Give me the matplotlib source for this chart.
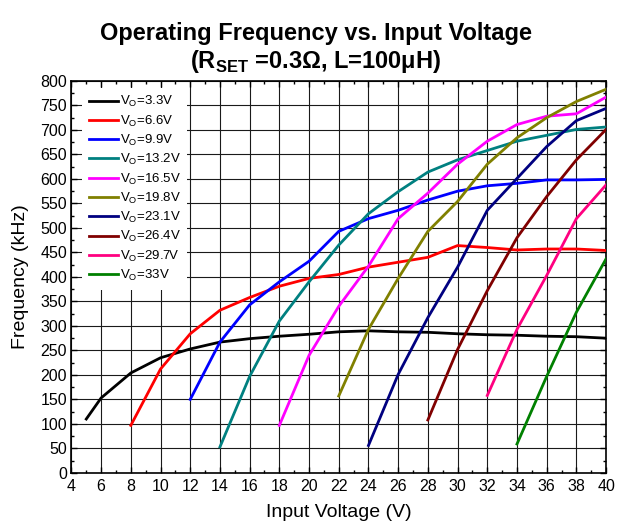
import matplotlib
matplotlib.use("Agg")
import matplotlib.pyplot as plt
from matplotlib import font_manager
from matplotlib.ticker import MultipleLocator

# ---- data ----
vin_33 = [5, 6, 8, 10, 12, 14, 16, 18, 20, 22, 24, 26, 28, 30, 32, 34, 36, 38, 40]
freq_33 = [110, 153, 204, 235, 253, 267, 274, 279, 283, 288, 290, 288, 287, 284, 282, 281, 279, 278, 275]

vin_66 = [8, 10, 12, 14, 16, 18, 20, 22, 24, 26, 28, 30, 32, 34, 36, 38, 40]
freq_66 = [97, 212, 284, 332, 358, 381, 397, 405, 420, 430, 440, 464, 460, 455, 457, 457, 454]

vin_99 = [12, 14, 16, 18, 20, 22, 24, 26, 28, 30, 32, 34, 36, 38, 40]
freq_99 = [150, 267, 343, 390, 432, 493, 519, 536, 557, 575, 586, 591, 598, 598, 599]

vin_132 = [14, 16, 18, 20, 22, 24, 26, 28, 30, 32, 34, 36, 38, 40]
freq_132 = [53, 197, 310, 390, 465, 529, 574, 614, 639, 658, 677, 689, 701, 706]

vin_165 = [18, 20, 22, 24, 26, 28, 30, 32, 34, 36, 38, 40]
freq_165 = [97, 240, 340, 422, 519, 571, 630, 677, 711, 728, 733, 767]

vin_198 = [22, 24, 26, 28, 30, 32, 34, 36, 38, 40]
freq_198 = [157, 293, 397, 493, 554, 630, 684, 725, 758, 783]

vin_231 = [24, 26, 28, 30, 32, 34, 36, 38, 40]
freq_231 = [56, 201, 317, 420, 536, 601, 666, 719, 744]

vin_264 = [28, 30, 32, 34, 36, 38, 40]
freq_264 = [108, 252, 372, 480, 564, 639, 701]

vin_297 = [32, 34, 36, 38, 40]
freq_297 = [158, 293, 403, 519, 588]

vin_330 = [34, 36, 38, 40]
freq_330 = [59, 197, 328, 437]

vout_labels = ["3.3", "6.6", "9.9", "13.2", "16.5", "19.8", "23.1", "26.4", "29.7", "33"]
series = [
    (vin_33, freq_33), (vin_66, freq_66), (vin_99, freq_99), (vin_132, freq_132),
    (vin_165, freq_165), (vin_198, freq_198), (vin_231, freq_231), (vin_264, freq_264),
    (vin_297, freq_297), (vin_330, freq_330),
]
colors = ["#000000", "#ff0000", "#0000ff", "#008080", "#ff00ff",
          "#808000", "#000080", "#800000", "#ff0080", "#008000"]

x_ticks = [4, 6, 8, 10, 12, 14, 16, 18, 20, 22, 24, 26, 28, 30, 32, 34, 36, 38, 40]
y_ticks = [0, 50, 100, 150, 200, 250, 300, 350, 400, 450, 500, 550, 600, 650, 700, 750, 800]

installed = {f.name for f in font_manager.fontManager.ttflist}
family = "Liberation Sans" if "Liberation Sans" in installed else "DejaVu Sans"
plt.rcParams["font.family"] = [family, "DejaVu Sans"]
plt.rcParams["mathtext.fontset"] = "custom"
plt.rcParams["mathtext.rm"] = family
plt.rcParams["mathtext.bf"] = family + ":bold"

fig = plt.figure(figsize=(6.21, 5.29), dpi=100)
ax = fig.add_axes([0.115, 0.106, 0.861, 0.741])

for (xs, ys), vo, c in zip(series, vout_labels, colors):
    ax.plot(xs, ys, color=c, lw=2.0, label=r"V$_\mathregular{O}$=" + vo + "V",
            solid_joinstyle="miter", zorder=3)

ax.set_xlim(4, 40)
ax.set_ylim(0, 800)
ax.set_xticks(x_ticks)
ax.set_yticks(y_ticks)
ax.xaxis.set_minor_locator(MultipleLocator(1))
ax.yaxis.set_minor_locator(MultipleLocator(25))
ax.tick_params(which="both", direction="in", top=True, right=True, labelsize=11.5)
ax.tick_params(axis="x", pad=4.5)
ax.tick_params(axis="y", pad=3)
ax.tick_params(which="major", length=4, width=1)
ax.tick_params(which="minor", length=2.5, width=1)
ax.grid(True, which="major", color="#1a1a1a", lw=0.8, zorder=1)
for s in ax.spines.values():
    s.set_linewidth(1.2)

ax.set_xlabel("Input Voltage (V)", fontsize=14, labelpad=7)
ax.set_ylabel("Frequency (kHz)", fontsize=14, labelpad=8)

leg = ax.legend(loc="upper left", bbox_to_anchor=(0.008, 1.0), fontsize=9.5,
                handlelength=2.2, handletextpad=0.15, labelspacing=0.32,
                borderpad=0.5, frameon=True, fancybox=False, framealpha=1.0,
                edgecolor="none", facecolor="white")
leg.set_zorder(5)

fig.text(0.509, 0.936, "Operating Frequency vs. Input Voltage", ha="center", va="center",
         fontsize=17, fontweight="bold")
fig.text(0.509, 0.883, r"(R$_\mathbf{SET}$ =0.3Ω, L=100μH)", ha="center", va="center",
         fontsize=17, fontweight="bold")

fig.savefig("out.png", dpi=100)
